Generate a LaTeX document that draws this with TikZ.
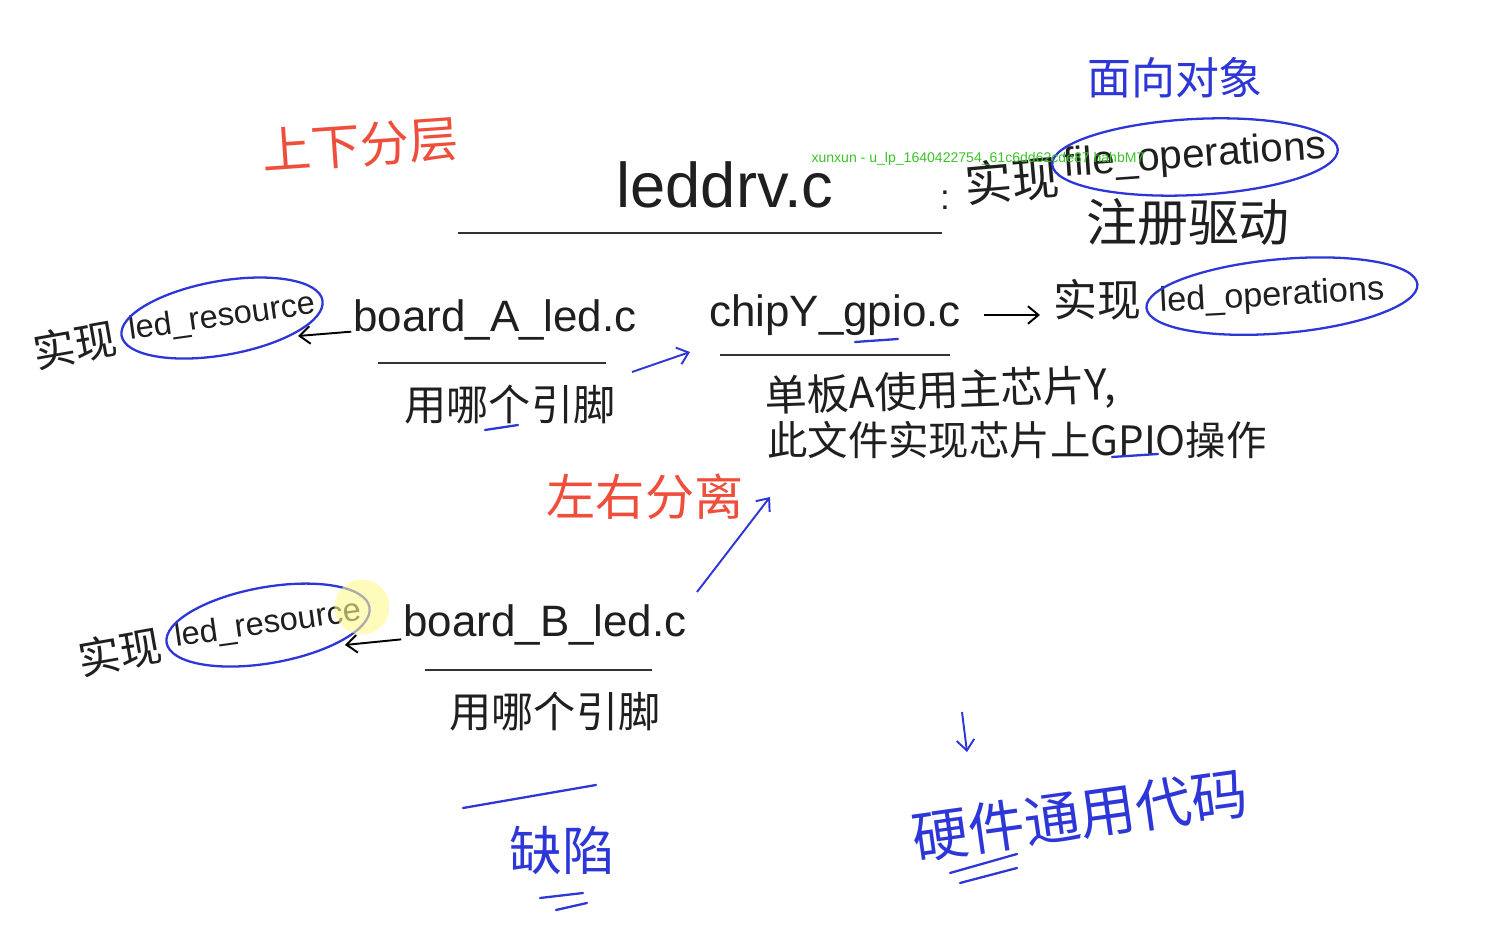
\documentclass[tikz,border=0pt]{standalone}
\usepackage{fontspec}
\setmainfont{Liberation Sans}
\newfontfamily\cjk{Noto Sans CJK SC}
\usetikzlibrary{arrows.meta, positioning}
\definecolor{penred}{RGB}{238,78,58}
\definecolor{penblue}{RGB}{45,55,215}
\definecolor{markgreen}{RGB}{60,195,40}

\begin{document}
\begin{tikzpicture}[x=0.02cm, y=-0.02cm,
    hand/.style={inner sep=1pt, text=black!88},
    file/.style={hand, font=\fontsize{25}{25}\selectfont},
    note/.style={hand, font=\cjk\fontsize{24}{24}\selectfont},
    rednote/.style={note, text=penred, font=\cjk\fontsize{28}{28}\selectfont},
    bluenote/.style={note, text=penblue},
    ring/.style={draw=penblue, line width=1.3pt},
    rule/.style={draw=black!80, line width=1.1pt},
    penline/.style={draw=penblue, line width=1.3pt, line cap=round},
    arrow/.style={line width=1.1pt, -{Straight Barb[length=6pt, width=10pt]}},
    bluearrow/.style={arrow, draw=penblue}]
    \fill[white] (0,0) rectangle (1499,935);
    \useasboundingbox (0,0) rectangle (1499,935);

    % upper layer
    \node [rednote, rotate=4] (layered) at (360,145) {上下分层};
    \node [file, font=\fontsize{36}{36}\selectfont] (leddrv) at (725,185) {leddrv.c};
    \coordinate (drvL) at (458,233);
    \coordinate (drvR) at (942,233);
    \draw [rule] (drvL) -- (drvR);
    \node [hand, font=\fontsize{20}{20}\selectfont] (colon) at (945,200) {:};
    \node [note, font=\cjk\fontsize{27}{27}\selectfont, rotate=5] (implF) at (1012,180) {实现};
    \node [file, font=\fontsize{23}{23}\selectfont, rotate=4] (fops) at (1195,157) {file\_operations};
    \draw [ring, rotate around={3:(fops.center)}] (fops.center) ellipse [x radius=2.86cm, y radius=0.76cm];
    \node [note, font=\cjk\fontsize{29}{29}\selectfont] (register) at (1188,222) {注册驱动};
    \node [bluenote, font=\cjk\fontsize{25}{25}\selectfont] (oop) at (1175,78) {面向对象};

    % board A
    \node [note, rotate=10] (implA) at (75,345) {实现};
    \node [file, font=\fontsize{18.5}{18.5}\selectfont, rotate=8] (resA) at (222,318) {led\_resource};
    \draw [ring, rotate around={10:(resA.center)}] (resA.center) ellipse [x radius=2.04cm, y radius=0.74cm];
    \node [file] (boardA) at (495,320) {board\_A\_led.c};
    \coordinate (boardAL) at (378,363);
    \coordinate (boardAR) at (606,363);
    \draw [rule] (boardAL) -- (boardAR);
    \node [note] (pinA) at (510,405) {用哪个引脚};
    \draw [penline] (485,430) -- (518,425);
    \coordinate (resAin) at (298,336);
    \draw [arrow] (boardA) -- (resAin);

    % chip Y
    \node [file] (chipY) at (835,315) {chipY\_gpio.c};
    \draw [penline] (855,342) -- (898,339);
    \coordinate (chipL) at (720,355);
    \coordinate (chipR) at (950,355);
    \draw [rule] (chipL) -- (chipR);
    \node [note, font=\cjk\fontsize{25}{25}\selectfont] (implO) at (1097,300) {实现};
    \coordinate (opsIn) at (1040,315);
    \draw [arrow] ([xshift=12pt]chipY.east) -- (opsIn);
    \node [file, font=\fontsize{19.5}{19.5}\selectfont, rotate=3] (lops) at (1272,297) {led\_operations};
    \draw [ring, rotate around={5:(lops.center)}] ([xshift=0.2cm]lops.center) ellipse [x radius=2.72cm, y radius=0.74cm];
    \node [note, rotate=2] (boardUse) at (940,392) {单板A使用主芯片Y,};
    \node [note, font=\cjk\fontsize{23}{23}\selectfont] (chipImpl) at (1017,440) {此文件实现芯片上GPIO操作};
    \draw [penline] (1112,457) -- (1158,454);
    \coordinate (linkA) at (632,372);
    \coordinate (linkAtip) at (690,352);
    \draw [bluearrow] (linkA) -- (linkAtip);

    % board B
    \node [rednote] (separated) at (645,497) {左右分离};
    \node [note, rotate=10] (implB) at (120,652) {实现};
    \node [file, font=\fontsize{18.5}{18.5}\selectfont, rotate=8] (resB) at (268,625) {led\_resource};
    \draw [ring, rotate around={10:(resB.center)}] (resB.center) ellipse [x radius=2.06cm, y radius=0.76cm];
    \node [circle, fill=yellow!45, opacity=0.6, minimum size=1.1cm, inner sep=0pt] (cursor) at (362,607) {};
    \node [file] (boardB) at (545,625) {board\_B\_led.c};
    \coordinate (boardBL) at (425,670);
    \coordinate (boardBR) at (652,670);
    \draw [rule] (boardBL) -- (boardBR);
    \node [note] (pinB) at (555,712) {用哪个引脚};
    \coordinate (resBin) at (345,645);
    \draw [arrow] (boardB) -- (resBin);
    \coordinate (linkB) at (697,592);
    \coordinate (linkBtip) at (770,497);
    \draw [bluearrow] (linkB) -- (linkBtip);

    % bottom notes
    \draw [penline] (463,808) -- (596,785);
    \node [bluenote, font=\cjk\fontsize{30}{30}\selectfont] (flaw) at (562,850) {缺陷};
    \draw [penline] (540,898) -- (583,893);
    \draw [penline] (556,910) -- (587,903);
    \coordinate (downTop) at (962,712);
    \coordinate (downTip) at (967,752);
    \draw [bluearrow] (downTop) -- (downTip);
    \node [bluenote, font=\cjk\fontsize{32}{32}\selectfont, rotate=8] (hwcode) at (1080,815) {硬件通用代码};
    \draw [penline] (950,873) -- (1017,854);
    \draw [penline] (960,883) -- (1017,868);

    % watermark
    \node [font=\fontsize{8}{8}\selectfont, text=markgreen, inner sep=0pt] (wmark) at (978,159) {xunxun - u\_lp\_1640422754\_61c6dd62cde87 hahbM7};
\end{tikzpicture}
\end{document}
